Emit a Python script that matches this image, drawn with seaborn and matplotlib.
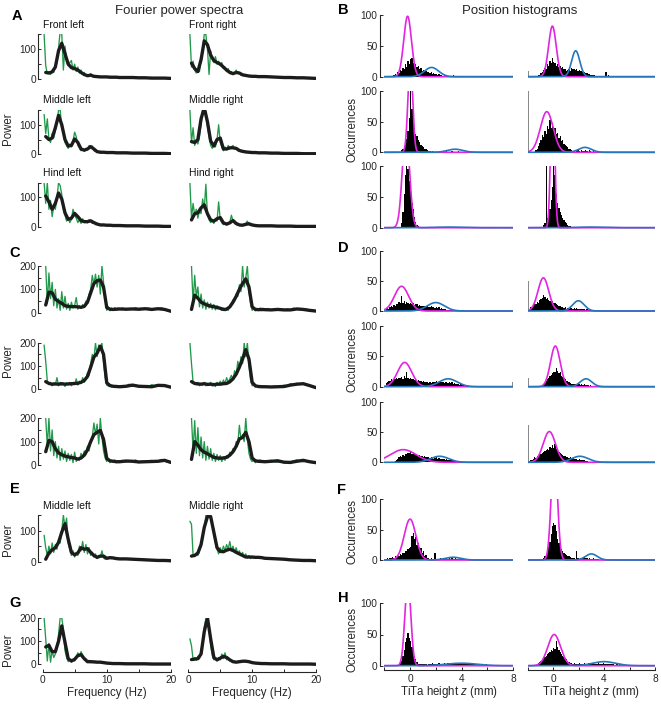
import numpy as np
import pandas as pd
import matplotlib
matplotlib.use("Agg")
import matplotlib.pyplot as plt
import seaborn as sns

sns.set_theme(style="white")
plt.rcParams["font.family"] = ["Liberation Sans", "DejaVu Sans"]
plt.rcParams["mathtext.fontset"] = "custom"
plt.rcParams["mathtext.it"] = "Liberation Sans:italic"
plt.rcParams["mathtext.rm"] = "Liberation Sans"

nan = np.nan
# ---------------- frequency grids (Hz) ----------------
FG = np.concatenate([np.arange(0.25, 12.01, 0.25), np.arange(12.5, 20.01, 0.5)])   # raw spectra
FB = np.concatenate([np.arange(0.5, 12.01, 0.5), np.arange(13, 20.01, 1.0)])        # smoothed

# ---------------- Panel A (front/middle/hind, left/right) ----------------
spec_titles_A = ["Front left", "Front right", "Middle left", "Middle right", "Hind left", "Hind right"]
green_A = [
    [150,45,18,25,15,28,22,40,55,105,160,150,30,110,65,45,
     55,62,30,50,25,40,20,30,15,22,12,15,8,18,10,8,
     10,6,9,7,6,8,6,7,5,9,6,7,5,6,5,6,
     5,6,4,5,5,4,6,4,4,5,3,4,3,3,4,3],
    [150,40,60,30,20,35,25,70,95,150,150,100,15,95,70,55,
     75,50,60,45,55,35,40,25,35,18,25,15,20,30,18,22,
     12,16,10,14,10,12,8,10,8,11,7,9,7,9,6,8,
     7,8,6,7,6,5,6,5,5,4,5,4,3,4,3,2],
    [135,70,120,50,40,70,55,80,110,150,150,90,70,40,30,20,
     35,25,45,75,60,30,22,12,20,10,20,15,30,22,28,12,
     10,8,7,10,5,8,6,7,5,6,5,6,4,6,5,5,
     5,4,5,4,4,5,3,4,3,3,4,3,3,2,3,2],
    [150,40,90,30,45,35,60,100,150,150,130,95,60,30,20,35,
     25,50,100,40,25,12,25,15,30,18,25,30,18,22,12,14,
     9,12,7,9,6,8,6,7,5,6,4,5,4,5,4,4,
     4,3,4,3,3,3,2,3,2,2,3,2,2,1,2,1],
    [150,80,150,60,90,35,70,60,100,150,140,110,60,40,20,30,
     15,25,60,40,30,15,25,12,28,15,22,14,25,18,12,15,
     8,10,6,8,5,7,5,6,4,7,5,6,4,5,4,5,
     4,5,4,4,3,4,3,3,4,3,2,3,2,2,3,2],
    [150,30,80,40,60,30,55,45,95,60,145,40,25,15,20,12,
     25,20,85,25,15,8,12,6,10,15,40,20,12,8,6,8,
     5,6,10,12,20,8,5,6,4,5,3,4,3,4,3,4,
     3,4,3,3,2,3,2,3,2,2,3,2,2,1,2,1],
]
black_A = [
    [22,20,24,40,95,120,85,50,38,35,30,22, 15,11,13,9,8,7,7,7,6,6,6,5, 5,5,4,4,3,3,3,2],
    [53,35,25,65,128,115,80,62,55,50,40,30, 22,18,22,20,14,12,10,9,9,8,8,8, 7,6,5,5,4,4,3,2],
    [60,50,55,90,132,100,50,28,30,52,40,18, 14,18,26,18,9,7,7,6,6,6,5,5, 5,4,4,4,3,3,3,2],
    [43,40,50,120,158,110,45,28,50,55,18,18, 22,22,20,13,10,8,7,6,6,5,5,5, 4,4,3,3,3,2,2,2],
    [105,85,60,80,115,95,48,26,30,46,35,22, 18,18,21,15,10,7,7,6,6,5,5,5, 4,4,4,3,3,3,2,2],
    [24,45,48,65,75,45,24,20,28,32,14,10, 14,22,12,7,6,9,11,7,5,4,4,4, 4,3,3,3,2,2,2,2],
]

# ---------------- Panel C ----------------
green_C = [
    [nan,200,40,170,60,130,30,100,20,60,10,90,20,70,15,40,
     10,45,20,30,65,15,30,20,35,25,50,40,80,100,160,120,
     165,110,160,80,200,130,60,10,25,8,20,12,22,10,20,15,
     20,12,18,14,22,12,16,14,20,12,18,14,22,15,12,6],
    [nan,200,40,160,70,110,25,80,20,55,15,45,20,40,15,35,
     12,30,25,15,10,20,8,20,10,30,40,55,50,80,70,120,
     90,200,110,150,200,90,40,10,22,8,18,10,20,8,18,12,
     18,10,16,12,14,10,16,12,20,14,18,12,16,10,12,6],
    [190,120,35,25,30,15,28,20,50,15,30,18,25,12,28,20,
     30,15,25,20,45,18,35,25,50,30,45,70,60,110,150,130,
     200,140,190,170,200,120,50,18,14,20,10,15,8,14,10,12,
     10,14,22,12,18,10,14,8,12,20,14,18,12,16,10,8],
    [200,110,30,25,20,30,15,25,18,30,15,25,20,30,14,25,
     12,30,18,35,20,40,25,50,30,45,60,40,80,60,120,90,
     140,110,200,140,200,100,40,15,20,10,14,8,12,9,13,10,
     12,10,14,9,12,18,14,24,20,26,22,24,18,14,10,6],
    [nan,200,80,200,60,150,40,100,30,80,20,70,25,60,15,50,
     20,45,10,55,15,30,20,50,35,60,45,80,60,100,120,180,
     130,175,90,200,120,60,30,15,25,10,20,12,22,10,18,12,
     20,12,18,15,22,10,16,12,14,20,12,18,24,16,12,8],
    [nan,200,60,190,50,160,40,120,30,100,20,80,25,70,20,50,
     15,45,20,40,15,35,20,40,30,55,45,70,60,100,90,170,
     110,130,100,200,110,50,25,15,20,10,18,12,22,14,18,12,
     18,20,14,12,16,10,12,14,18,22,16,14,18,12,10,8],
]
black_C = [
    [33,88,85,58,48,40,30,27,26,26,25,23, 27,45,85,125,137,140,110,22,15,14,15,16, 15,16,15,17,14,17,14,6],
    [14,75,62,45,38,32,28,26,22,19,14,15, 25,45,70,100,125,145,110,25,14,13,14,13, 12,14,12,12,16,14,10,7],
    [33,25,22,23,22,24,22,23,24,25,26,30, 38,55,95,138,155,185,150,28,16,13,12,11, 13,18,13,12,11,17,16,9],
    [33,25,23,22,24,21,22,20,22,22,24,25, 32,45,65,95,130,170,130,30,15,12,11,11, 10,11,12,18,22,24,16,7],
    [57,105,100,70,52,44,38,35,32,30,25,30, 42,65,100,130,140,148,110,28,18,16,14,14, 17,16,13,14,15,16,20,11],
    [24,100,85,65,55,48,40,33,30,29,30,33, 42,57,80,112,118,140,100,30,18,16,15,14, 16,18,12,11,16,20,14,10],
]

# ---------------- Panel E and G ----------------
spec_titles_E = ["Middle left", "Middle right"]
green_E = [
    [85,45,20,50,25,60,30,55,40,70,60,100,150,110,140,60,
     40,20,35,15,30,20,50,35,65,30,55,25,45,20,30,15,
     25,10,20,15,35,12,8,12,10,15,10,14,9,12,9,10,
     9,10,8,9,7,8,6,7,6,5,6,5,4,4,3,3],
    [130,120,20,18,25,20,35,50,85,100,150,150,150,150,120,90,
     60,40,25,45,30,50,35,55,40,65,35,50,30,45,25,35,
     20,30,15,25,12,20,10,15,12,14,11,13,12,13,10,11,
     10,9,10,8,8,7,6,6,5,5,4,4,4,3,3,3],
]
black_E = [
    [8,28,38,45,62,95,122,72,30,22,28,45, 40,42,30,20,14,18,18,11,13,12,10,9, 9,8,7,6,5,4,4,3],
    [18,20,28,55,110,145,145,95,45,33,32,37, 40,36,30,25,20,15,15,15,14,14,13,11, 10,9,8,6,5,4,4,3],
]
green_G = [
    [200,110,15,90,10,60,30,45,70,130,200,200,150,60,30,12,
     20,10,20,15,30,50,35,55,40,20,25,10,18,8,15,10,
     14,9,12,8,10,6,8,5,6,4,5,4,4,3,4,3,
     3,4,3,3,2,3,2,3,2,2,2,2,1,2,1,1],
    [110,80,20,30,18,35,25,60,100,160,195,190,150,80,40,20,
     25,15,30,20,45,25,50,20,30,15,20,10,14,8,12,10,
     16,12,18,12,16,9,10,6,7,5,6,4,5,4,4,3,
     3,4,3,3,2,3,2,2,2,2,2,1,2,1,1,1],
]
black_G = [
    [75,82,55,55,100,165,95,25,15,22,38,42, 25,12,12,11,10,10,8,6,5,4,4,4, 3,3,3,3,2,2,2,2],
    [21,23,25,45,140,200,110,30,20,27,35,30, 20,12,10,12,14,14,12,8,6,5,4,4, 3,3,3,2,2,2,2,1],
]

# ---------------- Position histograms (0.1 mm bins, listed from start) ----------------
hist_B_start = [-1.3, -1.2, -0.7, -1.4, -0.7, -0.8]
hist_B = [
    [2,4,3,8,6,11,9,14,12,20,16,26,20,28,30,22,18,21,15,17,12,14,9,11,8,9,7,8,6,7,5,6,4,5,3,4,2,3,1,2,1,0,1,0,1,0,2,0,1,0,0,1,0,0,0,1,0,0,0,0,1],
    [3,2,6,8,11,14,12,20,17,25,22,30,24,22,18,20,16,18,14,16,12,13,10,11,12,10,14,12,13,11,12,10,11,9,10,8,8,6,6,5,5,3,3,2,2,1,1,0,1,0,0,1,0,8,0,2],
    [3,6,10,15,22,35,55,110,70,48,40,30,26,20,16,12,10,8,6,5,3,2,2,1,2,1,1,1,0,1,1,0,1,0,1,2,1,1,0,2,1,1,0,1,2,0,1,0,1,0,0,1,0,0,1],
    [3,6,10,15,20,28,25,35,30,42,38,52,40,48,36,40,30,32,24,26,18,20,14,12,10,8,6,5,3,2,2,1,2,3,2,1,3,2,2,3,2,1,3,2,1,2,1,1,0,1],
    [8,25,55,85,120,95,75,60,40,30,18,10,5,2,1,0,1,0,1,0,0,1,0,0,1],
    [5,8,100,15,22,30,45,65,110,85,55,40,32,25,20,15,12,9,7,5,3,2,1,1,0,1,0,1],
]
edge_B = [23, 10, 0, 100, 0, 0]
hist_D_start = [-1.9, -1.9, -1.9, -0.8, -1.2, -1.9]
hist_D = [
    [3,5,4,7,8,6,10,9,11,12,15,13,25,14,16,12,15,13,11,14,12,13,10,12,11,9,10,8,9,8,9,7,8,7,6,8,6,7,5,6,5,6,4,5,3,4,3,2,2,1,1,2,1,0,1,0,1,0,0,1],
    [4,6,8,10,12,11,15,14,18,20,22,26,24,20,22,18,17,15,16,13,14,11,10,8,9,6,7,5,6,4,5,4,6,5,4,5,4,5,3,4,4,3,4,3,2,3,2,2,1,1,1,0,1],
    [6,8,10,9,12,11,13,12,14,13,15,14,16,13,18,14,25,15,13,14,12,13,11,12,10,11,9,10,8,9,7,8,7,6,7,6,8,7,8,9,7,8,9,7,8,6,7,8,6,7,6,7,5,6,5,4,5,3,4,3,2,3,1,2,1,1,0,1],
    [4,6,9,12,14,18,20,22,25,24,30,26,22,24,18,16,14,12,10,9,7,6,5,4,5,4,3,4,5,3,4,3,4,2,3,2,1,2,1,1,0,1],
    [2,4,6,8,10,9,12,11,14,13,15,16,18,14,15,13,14,12,11,12,10,11,9,10,8,9,8,7,8,7,6,7,8,6,7,5,6,5,6,4,5,4,3,4,3,2,3,2,1,1,1,0,1],
    [2,3,4,6,8,7,10,11,13,14,15,17,18,20,22,21,25,23,28,24,30,22,20,17,15,14,12,10,11,9,8,7,8,6,7,6,5,6,4,5,4,3,4,3,2,2,1,1,0,1],
]
edge_D = [95, 50, 50, 15, 0, 62]
edge_D_right = [0, 0, 8, 0, 0, 0]
hist_F_start = [-1.9, -0.8]
hist_F = [
    [2,3,2,4,3,5,4,6,5,8,7,10,9,12,11,15,14,18,20,22,40,45,35,38,25,28,18,20,12,14,6,8,3,4,2,3,2,1,12,2,1,2,3,2,1,2,3,2,2,3,2,3,2,2,3,2,1,2,2,1,1,2,1,1,0,1],
    [3,6,10,15,22,30,42,55,60,58,48,35,28,22,18,15,12,10,8,7,6,5,3,4,3,2,15,3,2,3,4,3,5,3,4,2,3,2,2,3,1,2,1,1],
]
edge_F = [58, 0]
hist_H_start = [-0.8, -1.3]
hist_H = [
    [4,8,15,25,38,45,52,44,40,30,24,16,10,6,3,2,3,2,2,3,2,1,3,2,2,4,3,2,3,2,4,3,2,3,5,3,2,4,3,2,4,3,2,3,2,4,3,2,3,2,3,2,4,2,3,2,3,2,2,3,2,1,2,1,2,1,1,2,1,1],
    [2,4,6,8,10,12,14,16,18,20,22,25,24,28,26,40,30,25,22,18,16,14,12,10,8,6,5,4,3,4,3,2,3,4,3,2,3,4,2,3,4,3,2,3,4,3,2,3,4,3,2,3,4,2,3,2,3,2,2,3,2,1,2,2,1,2,1,1,2,1,1],
]
edge_H = [0, 0]

# Gaussian fits: (amplitude, mean mm, sd mm)
fit_mag_B = [(98,-0.19,0.30),(82,-0.06,0.30),(150,0.02,0.18),(66,-0.50,0.50),(155,-0.32,0.28),(250,-0.04,0.15)]
fit_blu_B = [(15,1.67,0.55),(42,1.77,0.32),(5,3.5,0.60),(8,2.5,0.50),(1,3.0,1.0),(1,3.0,1.0)]
fit_mag_D = [(41,-0.66,0.55),(55,-0.77,0.42),(40,-0.42,0.55),(67,0.17,0.38),(21,-0.53,1.0),(51,-0.30,0.48)]
fit_blu_D = [(14,2.0,0.67),(17,1.98,0.45),(13,2.96,0.70),(13,2.58,0.45),(10,2.3,0.70),(10,2.1,0.65)]
fit_mag_F = [(67,0.0,0.45),(180,0.09,0.24)]
fit_blu_F = [(4.5,3.35,0.60),(10,3.0,0.45)]
fit_mag_H = [(136,-0.17,0.23),(50,0.08,0.50)]
fit_blu_H = [(4,4.0,1.2),(6.5,4.0,0.9)]

# ---------------- styling ----------------
W, H = 661, 704
fig = plt.figure(figsize=(W / 100, H / 100), dpi=100)
TXT = "#262626"
GREEN = "#22994a"
MAG = "#e324e3"
BLUE = "#2377ba"

def make_ax(xl, xr, xlim, ytop, ybot, ymax, ylo):
    scale = (ybot - ytop) / ymax
    bpx = ybot + (-ylo) * scale
    ax = fig.add_axes([xl / W, 1 - bpx / H, (xr - xl) / W, (bpx - ytop) / H])
    ax.set_facecolor("none")
    ax.set_xlim(*xlim)
    ax.set_ylim(ylo, ymax)
    for s in ["top", "right"]:
        ax.spines[s].set_visible(False)
    for s in ["left", "bottom"]:
        ax.spines[s].set_color(TXT)
        ax.spines[s].set_linewidth(0.8)
    return ax

def style_y(ax, show, major, minor, ymax):
    if show:
        ax.spines["left"].set_position(("outward", 3.3))
        ax.spines["left"].set_bounds(0, ymax)
        ax.set_yticks(major)
        ax.set_yticklabels([str(v) for v in major])
        ax.set_yticks(minor, minor=True)
        ax.tick_params(axis="y", which="both", direction="in", length=2.5, width=0.7,
                       labelsize=7.3, pad=1.5, colors=TXT, left=True)
    else:
        ax.spines["left"].set_visible(False)
        ax.set_yticks([])
    ax.set_ylabel("")

def style_x(ax, show, major, minor, lo, hi, off):
    if show:
        ax.spines["bottom"].set_position(("outward", off))
        ax.spines["bottom"].set_bounds(lo, hi)
        ax.set_xticks(major)
        ax.set_xticklabels([str(v) for v in major])
        ax.set_xticks(minor, minor=True)
        ax.tick_params(axis="x", which="both", direction="in", length=2.5, width=0.7,
                       labelsize=7.3, pad=2.5, colors=TXT, bottom=True)
    else:
        ax.spines["bottom"].set_visible(False)
        ax.set_xticks([])
    ax.set_xlabel("")

SPX = [(42.5, 171.0), (188.3, 316.0)]
HPX = [(384.3, 513.0), (527.7, 655.0)]

def spectrum(ax, green, black):
    g = pd.DataFrame({"f": FG, "p": np.array(green, float)}).dropna()
    b = pd.DataFrame({"f": FB, "p": np.array(black, float)}).dropna()
    sns.lineplot(data=g, x="f", y="p", ax=ax, color=GREEN, linewidth=0.95, errorbar=None)
    sns.lineplot(data=b, x="f", y="p", ax=ax, color="#1c1c1c", linewidth=2.4, errorbar=None)

NBIN = 100
CENTERS = -2.0 + 0.1 * np.arange(NBIN) + 0.05
ZGRID = np.linspace(-2, 8, 801)

def histogram(ax, start, vals, edge, edge_r, mag, blu):
    w = np.zeros(NBIN)
    i0 = int(round((start + 2.0) / 0.1))
    w[i0:i0 + len(vals)] = vals
    df = pd.DataFrame({"z": CENTERS, "w": w})
    sns.histplot(data=df, x="z", weights="w", bins=NBIN, binrange=(-2, 8), ax=ax,
                 color="black", alpha=1.0, linewidth=0, element="bars")
    if edge or edge_r:
        we = np.zeros(NBIN)
        we[0] = edge
        we[-1] = edge_r
        dfe = pd.DataFrame({"z": CENTERS, "w": we})
        sns.histplot(data=dfe, x="z", weights="w", bins=NBIN, binrange=(-2, 8), ax=ax,
                     color="#8a8a8a", alpha=1.0, linewidth=0, element="bars", shrink=0.5)
    a, m, s = mag
    sns.lineplot(x=ZGRID, y=a * np.exp(-(ZGRID - m) ** 2 / (2 * s * s)), ax=ax, color=MAG,
                 linewidth=1.2, errorbar=None)
    a, m, s = blu
    sns.lineplot(x=ZGRID, y=a * np.exp(-(ZGRID - m) ** 2 / (2 * s * s)), ax=ax, color=BLUE,
                 linewidth=1.2, errorbar=None)
    ax.set_xlim(-2, 8)
    ax.set_ylim(-2, 100)

# ---- spectra A
rows_A = [(34.3, 79.0), (110.0, 154.3), (182.7, 227.0)]
sub_y_A = [25, 100, 173]
for r, (yt, yb) in enumerate(rows_A):
    for c in range(2):
        k = 2 * r + c
        ax = make_ax(SPX[c][0], SPX[c][1], (0, 20), yt, yb, 150, -4)
        spectrum(ax, green_A[k], black_A[k])
        ax.set_xlim(0, 20); ax.set_ylim(-4, 150)
        style_y(ax, c == 0, [0, 100], [50, 150], 150)
        style_x(ax, False, [], [], 0, 20, 0)
        fig.text((SPX[c][0] + 0.5) / W, 1 - sub_y_A[r] / H, spec_titles_A[k], fontsize=7.5,
                 color="#111", ha="left", va="center")

# ---- spectra C
rows_C = [(266.0, 312.7), (342.7, 389.3), (418.3, 465.0)]
for r, (yt, yb) in enumerate(rows_C):
    for c in range(2):
        k = 2 * r + c
        ax = make_ax(SPX[c][0], SPX[c][1], (0, 20), yt, yb, 200, -5)
        spectrum(ax, green_C[k], black_C[k])
        ax.set_xlim(0, 20); ax.set_ylim(-5, 200)
        style_y(ax, c == 0, [0, 100, 200], [50, 150], 200)
        style_x(ax, False, [], [], 0, 20, 0)

# ---- spectra E
for c in range(2):
    ax = make_ax(SPX[c][0], SPX[c][1], (0, 20), 515.0, 561.7, 150, -4)
    spectrum(ax, green_E[c], black_E[c])
    ax.set_xlim(0, 20); ax.set_ylim(-4, 150)
    style_y(ax, c == 0, [0, 100], [50, 150], 150)
    style_x(ax, False, [], [], 0, 20, 0)
    fig.text((SPX[c][0] + 0.5) / W, 1 - 506 / H, spec_titles_E[c], fontsize=7.5,
             color="#111", ha="left", va="center")

# ---- spectra G
for c in range(2):
    ax = make_ax(SPX[c][0], SPX[c][1], (0, 20), 617.7, 664.5, 200, -5)
    spectrum(ax, green_G[c], black_G[c])
    ax.set_xlim(0, 20); ax.set_ylim(-5, 200)
    style_y(ax, c == 0, [0, 100, 200], [50, 150], 200)
    style_x(ax, True, [0, 10, 20], [5, 15], 0, 20, 4.2)
    fig.text(((SPX[c][0] + SPX[c][1]) / 2) / W, 1 - 693 / H, "Frequency (Hz)", fontsize=8.3,
             color=TXT, ha="center", va="center")

# ---- histograms B, D
def hist_block(rows, starts, hists, edges, edges_r, mags, blus):
    for r, (yt, yb) in enumerate(rows):
        for c in range(2):
            k = 2 * r + c
            ax = make_ax(HPX[c][0], HPX[c][1], (-2, 8), yt, yb, 100, -2)
            histogram(ax, starts[k], hists[k], edges[k], edges_r[k], mags[k], blus[k])
            style_y(ax, c == 0, [0, 50, 100], [], 100)
            style_x(ax, False, [], [], -2, 8, 0)

hist_block([(15.0, 76.7), (90.7, 152.3), (165.7, 227.7)], hist_B_start, hist_B, edge_B,
           [0] * 6, fit_mag_B, fit_blu_B)
hist_block([(250.7, 311.0), (326.0, 386.7), (402.0, 462.3)], hist_D_start, hist_D, edge_D,
           edge_D_right, fit_mag_D, fit_blu_D)

# ---- histograms F
for c in range(2):
    ax = make_ax(HPX[c][0], HPX[c][1], (-2, 8), 499.0, 560.0, 100, -2)
    histogram(ax, hist_F_start[c], hist_F[c], edge_F[c], 0, fit_mag_F[c], fit_blu_F[c])
    style_y(ax, c == 0, [0, 50, 100], [], 100)
    style_x(ax, False, [], [], -2, 8, 0)

# ---- histograms H
for c in range(2):
    ax = make_ax(HPX[c][0], HPX[c][1], (-2, 8), 603.3, 665.7, 100, -2)
    histogram(ax, hist_H_start[c], hist_H[c], edge_H[c], 0, fit_mag_H[c], fit_blu_H[c])
    style_y(ax, c == 0, [0, 50, 100], [], 100)
    style_x(ax, True, [0, 4, 8], [-2, 2, 6], -2, 8, 2.4)
    fig.text(((HPX[c][0] + HPX[c][1]) / 2) / W, 1 - 692 / H, "TiTa height $z$ (mm)",
             fontsize=8.3, color=TXT, ha="center", va="center")

# ---- labels
for lab, x, y in [("A", 17, 16), ("B", 343, 10), ("C", 15, 253), ("D", 343, 248),
                  ("E", 14.5, 489), ("F", 342, 490), ("G", 15, 603), ("H", 343, 598)]:
    fig.text(x / W, 1 - y / H, lab, fontsize=10.5, fontweight="bold", color="black",
             ha="center", va="center")

fig.text(179 / W, 1 - 11 / H, "Fourier power spectra", fontsize=9.5, color=TXT,
         ha="center", va="center")
fig.text(520 / W, 1 - 11 / H, "Position histograms", fontsize=9.5, color=TXT,
         ha="center", va="center")

for y in [129, 361, 540, 650]:
    fig.text(8 / W, 1 - y / H, "Power", fontsize=8.3, color=TXT, rotation=90,
             ha="center", va="center")
for y in [129, 360, 532, 639]:
    fig.text(352 / W, 1 - y / H, "Occurrences", fontsize=8.3, color=TXT, rotation=90,
             ha="center", va="center")

fig.savefig("out.png", dpi=100)
